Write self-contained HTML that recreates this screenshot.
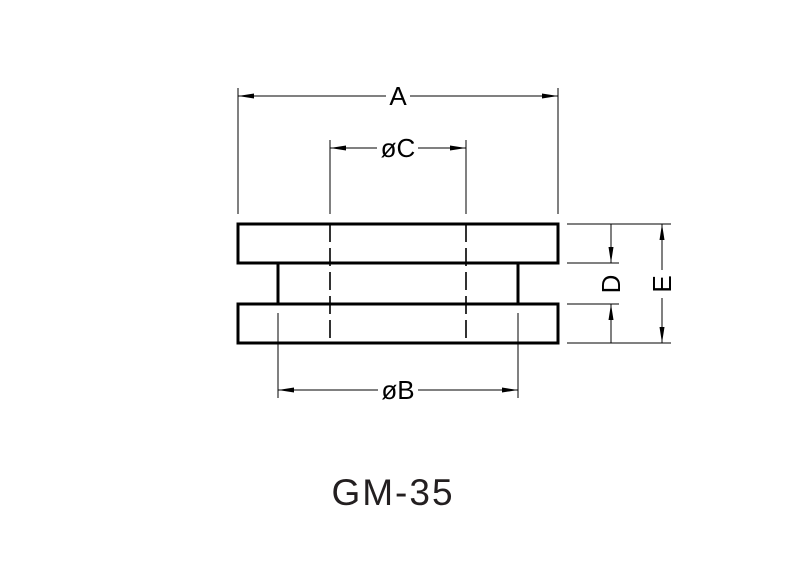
<!DOCTYPE html>
<html><head><style>body{margin:0;background:#fff}svg{display:block}</style></head><body>
<svg width="800" height="576" xmlns="http://www.w3.org/2000/svg">
<defs>
<marker id="ar" markerWidth="16" markerHeight="8" refX="16" refY="4" orient="auto" markerUnits="userSpaceOnUse"><path d="M0,1.5 L16,4 L0,6.5 Z" fill="#000"/></marker>
</defs>
<g stroke="#000" fill="none">
<rect x="238" y="224" width="320" height="39" stroke-width="3"/>
<rect x="238" y="304" width="320" height="39" stroke-width="3"/>
<line x1="278" y1="263" x2="278" y2="304" stroke-width="3"/>
<line x1="518" y1="263" x2="518" y2="304" stroke-width="3"/>
<g stroke-width="1.6" stroke-dasharray="18,6">
<line x1="330" y1="224" x2="330" y2="343"/>
<line x1="466" y1="224" x2="466" y2="343"/>
</g>
<g stroke-width="1">
<line x1="238" y1="88" x2="238" y2="214"/>
<line x1="558" y1="88" x2="558" y2="214"/>
<line x1="330" y1="140" x2="330" y2="214"/>
<line x1="466" y1="140" x2="466" y2="214"/>
<line x1="278" y1="313" x2="278" y2="398"/>
<line x1="518" y1="313" x2="518" y2="398"/>
<line x1="567" y1="224" x2="671" y2="224"/>
<line x1="567" y1="343" x2="671" y2="343"/>
<line x1="567" y1="263" x2="619" y2="263"/>
<line x1="567" y1="304" x2="619" y2="304"/>
<line x1="386" y1="96" x2="238" y2="96" marker-end="url(#ar)"/>
<line x1="410" y1="96" x2="558" y2="96" marker-end="url(#ar)"/>
<line x1="377" y1="148" x2="330" y2="148" marker-end="url(#ar)"/>
<line x1="418" y1="148" x2="466" y2="148" marker-end="url(#ar)"/>
<line x1="378" y1="390" x2="278" y2="390" marker-end="url(#ar)"/>
<line x1="418" y1="390" x2="518" y2="390" marker-end="url(#ar)"/>
<line x1="611" y1="224" x2="611" y2="263" marker-end="url(#ar)"/>
<line x1="611" y1="343" x2="611" y2="304" marker-end="url(#ar)"/>
<line x1="662" y1="270" x2="662" y2="224" marker-end="url(#ar)"/>
<line x1="662" y1="298" x2="662" y2="343" marker-end="url(#ar)"/>
</g>
</g>
<g font-family="Liberation Sans, sans-serif" fill="#000" font-size="26" text-anchor="middle">
<text x="398" y="105">A</text>
<text x="398" y="157">øC</text>
<text x="398" y="399">øB</text>
<text transform="translate(620,284) rotate(-90)">D</text>
<text transform="translate(671,284) rotate(-90)">E</text>
</g>
<text x="393" y="505" font-family="Liberation Sans, sans-serif" font-size="37" fill="#231f20" text-anchor="middle" letter-spacing="2">GM-35</text>
</svg>
</body></html>
